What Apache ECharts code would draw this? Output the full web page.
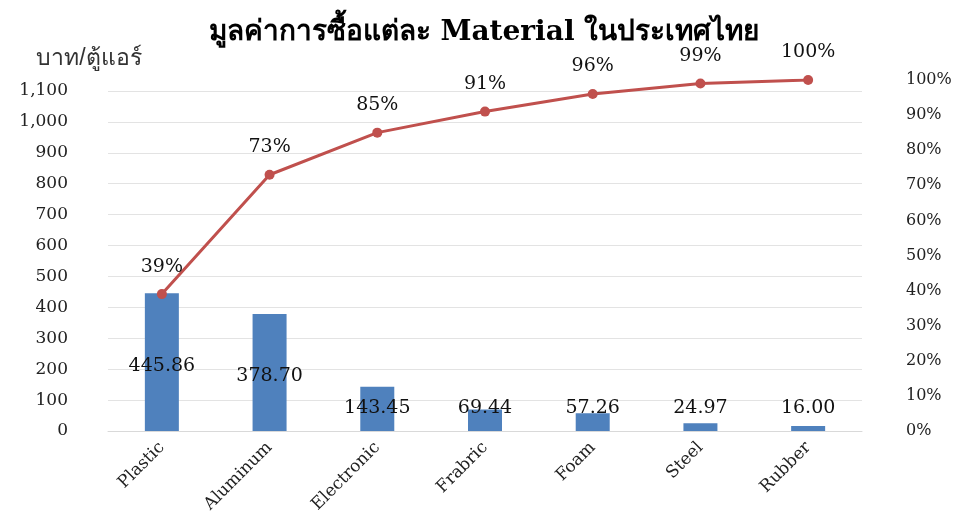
<!DOCTYPE html>
<html><head><meta charset="utf-8">
<script src="https://cdn.jsdelivr.net/npm/echarts@6/dist/echarts.min.js"></script>
<style>html,body{margin:0;padding:0;background:#fff}#c{width:968px;height:517px}</style>
</head><body><div id="c"></div>
<script>
const categories = ['Plastic','Aluminum','Electronic','Frabric','Foam','Steel','Rubber'];
const values = [445.86, 378.70, 143.45, 69.44, 57.26, 24.97, 16.00];
const cumulativePct = [39, 73, 85, 91, 96, 99, 100];
const leftTicks = [0,100,200,300,400,500,600,700,800,900,1000,1100];
const rightTicks = ['0%','10%','20%','30%','40%','50%','60%','70%','80%','90%','100%'];

const total = values.reduce((a,b)=>a+b,0);
const serif = '"DejaVu Serif","Liberation Serif",serif';
const chart = echarts.init(document.getElementById('c'));
chart.setOption({
  animation:false,
  title:{text:'มูลค่าการซื้อแต่ละ Material ในประเทศไทย',left:'center',top:14,
    textStyle:{fontFamily:serif,fontSize:28,fontWeight:'bold',color:'#000'}},
  grid:{left:108,right:106,top:80,bottom:86},
  xAxis:{type:'category',data:categories,
    axisLine:{lineStyle:{color:'#d9d9d9'}},axisTick:{show:false},
    axisLabel:{rotate:45,fontFamily:serif,fontSize:17,color:'#222',margin:14}},
  yAxis:[{type:'value',min:0,max:total,interval:100,name:'บาท/ตู้แอร์',
      nameLocation:'end',nameGap:10,nameTextStyle:{fontSize:23,color:'#333',align:'center',padding:[0,38,0,0]},
      axisLine:{show:false},axisTick:{show:false},
      splitLine:{showMaxLine:false,lineStyle:{color:'#e3e3e3'}},
      axisLabel:{showMaxLabel:false,margin:40,fontFamily:serif,fontSize:17,color:'#222',
        formatter:v=>leftTicks.includes(v)?v.toLocaleString('en-US'):''}},
    {type:'value',min:0,max:100,interval:10,position:'right',
      axisLine:{show:false},axisTick:{show:false},splitLine:{show:false},
      axisLabel:{margin:44,align:'left',fontFamily:serif,fontSize:16,color:'#222',
        formatter:v=>rightTicks[Math.round(v/10)]}}],
  series:[
    {type:'bar',data:values.map(v=>({value:v,label:v<150?{position:'insideBottom',distance:13}:{position:'inside',offset:[0,4]}})),
      barWidth:34,itemStyle:{color:'#4F81BD'},
      label:{show:true,fontFamily:serif,fontSize:19,color:'#111',formatter:p=>p.value.toFixed(2)}},
    {type:'line',yAxisIndex:1,data:cumulativePct,symbol:'circle',symbolSize:10,
      lineStyle:{color:'#C0504D',width:3},itemStyle:{color:'#C0504D'},
      label:{show:true,position:'top',distance:13,fontFamily:serif,fontSize:19,color:'#111',formatter:p=>p.value+'%'}}
  ]
});
</script></body></html>
